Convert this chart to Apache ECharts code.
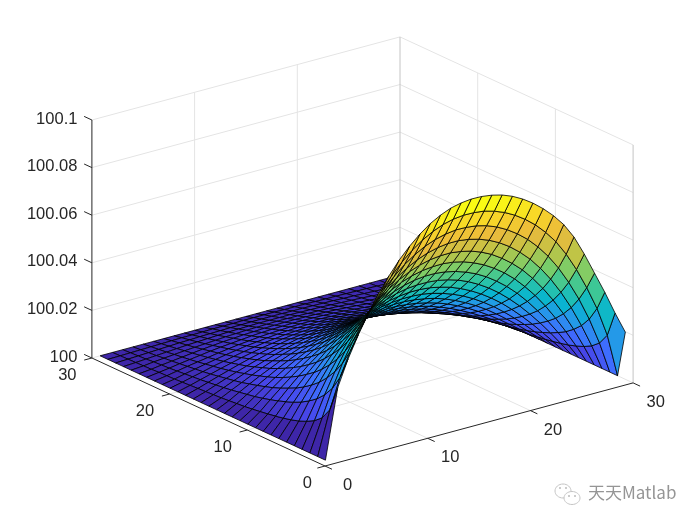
<!DOCTYPE html>
<html><head><meta charset="utf-8"><style>html,body{margin:0;background:#fff}#c{width:700px;height:525px}</style>
<script src="https://cdn.jsdelivr.net/npm/echarts@6/dist/echarts.min.js"></script></head><body><div id="c"></div>
<script>
const xGrid=[0.8,2,3,4,5,6,7,8,9,10,11,12,13,14,15,16,17,18,19,20,21,22,23,24,25,26,27,28,29,30];
const yGrid=[1,2,3,4,5,6,7,8,9,10,11,12,13,14,15,16,17,18,19,20,21,22,23,24,25,26,27,28,29,30];
const xTicks=[0,10,20,30];
const yTicks=[0,10,20,30];
const zTicks=[100,100.02,100.04,100.06,100.08,100.1];
// surface height above 100, in units of 0.0001; one row per yGrid value, one column per xGrid value
const zRows=[
[0,291,399,489,569,641,703,758,804,843,875,899,917,927,932,931,925,914,897,874,845,810,769,720,656,573,481,389,290,198],
[0,184,309,407,490,561,623,676,722,760,791,815,833,844,849,848,843,831,814,791,762,727,684,633,569,493,405,306,182,0],
[0,134,247,342,422,491,551,603,647,684,714,738,755,766,772,771,766,755,738,715,686,651,608,557,496,424,342,246,134,0],
[0,107,204,290,365,430,487,537,579,614,643,666,683,694,700,700,694,683,667,645,617,582,541,491,434,367,291,204,107,0],
[0,89,172,249,317,378,431,478,518,552,579,601,617,628,633,634,628,618,602,581,553,520,481,434,380,319,250,173,89,0],
[0,75,148,215,277,333,382,425,463,495,521,542,557,567,572,573,568,558,542,522,496,465,428,384,335,279,216,148,76,0],
[0,65,128,188,243,294,339,379,414,443,468,487,502,512,517,517,512,502,488,469,445,415,381,341,295,244,189,129,65,0],
[0,57,112,165,214,260,301,338,370,397,420,438,452,461,465,465,461,452,439,421,398,371,339,302,261,215,166,113,57,0],
[0,50,99,145,190,230,268,301,330,356,377,393,406,414,419,419,415,406,394,377,356,331,302,269,231,190,146,99,50,0],
[0,44,87,129,168,205,238,268,295,318,337,353,365,372,376,376,373,365,353,338,319,296,269,239,205,168,129,87,44,0],
[0,39,77,114,149,182,212,239,264,284,302,316,327,334,338,338,334,327,317,303,285,264,240,213,182,149,114,77,39,0],
[0,34,68,101,132,162,189,213,235,254,270,283,293,299,303,303,299,293,283,271,255,236,214,189,162,133,101,68,34,0],
[0,30,60,90,117,144,168,190,210,227,241,253,262,268,271,271,268,262,253,242,227,210,190,168,144,118,90,61,31,0],
[0,27,54,80,104,128,149,169,187,202,215,226,234,239,242,242,239,234,226,216,203,187,170,150,128,105,80,54,27,0],
[0,24,48,71,93,113,133,150,166,180,192,201,208,213,216,216,213,209,201,192,180,167,151,133,114,93,71,48,24,0],
[0,21,42,62,82,101,118,134,148,160,170,179,185,190,192,192,190,185,179,171,160,148,134,118,101,82,63,42,21,0],
[0,19,37,55,73,89,104,118,131,142,151,159,164,168,170,170,168,165,159,151,142,131,118,104,89,73,55,37,19,0],
[0,17,33,49,64,78,92,104,116,125,134,140,145,149,151,151,149,145,140,134,125,116,105,92,79,64,49,33,17,0],
[0,15,29,43,56,69,81,92,102,110,118,123,128,131,133,133,131,128,124,118,110,102,92,81,69,56,43,29,15,0],
[0,13,25,37,49,60,71,80,89,96,103,108,112,115,116,116,115,112,108,103,97,89,80,71,60,49,37,25,13,0],
[0,11,22,32,43,52,61,70,77,84,89,94,97,100,101,101,100,97,94,90,84,77,70,62,52,43,33,22,11,0],
[0,9,19,28,37,45,53,60,67,72,77,81,84,86,87,87,86,84,81,77,72,67,60,53,45,37,28,19,9,0],
[0,8,16,24,31,38,45,51,57,61,66,69,71,73,74,74,73,71,69,66,61,57,51,45,38,31,24,16,8,0],
[0,7,13,20,26,32,38,43,47,51,55,58,60,61,62,62,61,60,58,55,51,47,43,38,32,26,20,13,7,0],
[0,5,11,16,21,26,31,35,39,42,45,47,49,50,51,51,50,49,47,45,42,39,35,31,26,21,16,11,5,0],
[0,4,9,13,17,21,24,27,30,33,35,37,38,39,40,40,39,38,37,35,33,30,27,24,21,17,13,9,4,0],
[0,3,6,9,12,15,18,20,22,24,26,27,28,29,29,29,29,28,27,26,24,22,20,18,15,12,9,6,3,0],
[0,2,4,6,8,10,12,13,15,16,17,18,18,19,19,19,19,18,18,17,16,15,13,12,10,8,6,4,2,0],
[0,1,2,3,4,5,6,7,7,8,9,9,9,10,10,10,10,9,9,9,8,7,7,6,5,4,3,2,1,0],
[0,0,0,0,0,0,0,0,0,0,0,0,0,0,0,0,0,0,0,0,0,0,0,0,0,0,0,0,0,0]
];
const parula=[[62,38,168],[71,71,235],[62,111,255],[39,150,235],[8,181,208],[49,198,159],[122,205,105],[190,196,70],[235,186,60],[248,215,40],[249,251,20]];
const toZ=v=>100+v/10000;
const zMax=Math.max(...zRows.map(r=>Math.max(...r)));
function col(v){const t=Math.min(1,v/zMax)*10,a=Math.min(9,Math.floor(t)),f=t-a,c=parula[a].map((q,n)=>Math.round(q+(parula[a+1][n]-q)*f));return `rgb(${c})`}
const cells=[];
for(let j=0;j<29;j++)for(let i=0;i<29;i++){
 const cx=(xGrid[i]+xGrid[i+1])/2,cy=(yGrid[j]+yGrid[j+1])/2,cz=(zRows[j][i]+zRows[j][i+1]+zRows[j+1][i]+zRows[j+1][i+1])/4;
 cells.push([i,j,(-.527*cx-.687*cy)/30+.5*cz/1000*.75]);
}
cells.sort((a,b)=>a[2]-b[2]);
const uu=(x,y)=>10.27*x-7.77*y, vv=(x,y,z)=>2.77*x+3.6*y+(z-100)*2380;
const lines=[];
const G='#e4e4e4',B='#c4c4c4',K='#262626';
xTicks.forEach(x=>{if(x>0)lines.push([x,0,100,x,30,100,0]);});
yTicks.forEach(y=>{if(y>0)lines.push([0,y,100,30,y,100,0]);});
xTicks.forEach(x=>{if(x>0&&x<30)lines.push([x,30,100,x,30,100.1,0]);});
yTicks.forEach(y=>{if(y>0&&y<30)lines.push([30,y,100,30,y,100.1,0]);});
zTicks.forEach(z=>{if(z>100){lines.push([0,30,z,30,30,z,0]);lines.push([30,0,z,30,30,z,0]);}});
lines.push([30,30,100,30,30,100.1,1]);lines.push([30,0,100,30,0,100.1,1]);
lines.push([0,0,100,30,0,100,2]);lines.push([0,0,100,0,30,100,2]);lines.push([0,30,100,0,30,100.1,2]);
xTicks.forEach(x=>lines.push([x,0,100,x,-0.9,100,2]));
yTicks.forEach(y=>lines.push([0,y,100,-0.75,y,100,2]));
zTicks.forEach(z=>lines.push([0,30,z,0,31,z,2]));
const labels=[];
xTicks.forEach(x=>labels.push([uu(x,-2.2)+5.5,vv(x,-2.2,100)-11.7,String(x),'center']));
yTicks.forEach(y=>labels.push([uu(-2.1,y)-3+(y===0?7:0),vv(-2.1,y,100)-12,String(y),'center']));
zTicks.forEach(z=>labels.push([uu(0,30)-14.5,vv(0,30,z)+1,String(z),'right']));
const font='16.5px "Liberation Sans",Arial,sans-serif';
const chart=echarts.init(document.getElementById('c'),null,{renderer:'canvas'});
chart.setOption({animation:false,
 grid:{left:0,right:0,top:0,bottom:0},
 xAxis:{type:'value',min:-325,max:375,show:false},
 yAxis:{type:'value',min:-59,max:466,show:false},
 graphic:[
  {type:'text',left:588,top:484,style:{text:'天天Matlab',font:'17px "Noto Sans CJK SC",sans-serif',fill:'#959595'}},
  {type:'ellipse',shape:{cx:563,cy:491,rx:8,ry:7},style:{fill:'#fff',stroke:'#c4c4c4',lineWidth:1}},
  {type:'ellipse',shape:{cx:572,cy:498,rx:8,ry:6.5},style:{fill:'#fff',stroke:'#c4c4c4',lineWidth:1}},
  {type:'circle',shape:{cx:560,cy:488,r:1},style:{fill:'#bbb'}},
  {type:'circle',shape:{cx:566,cy:488,r:1},style:{fill:'#bbb'}},
  {type:'circle',shape:{cx:569,cy:496,r:1},style:{fill:'#bbb'}},
  {type:'circle',shape:{cx:575,cy:496,r:1},style:{fill:'#bbb'}}
 ],
 series:[
 {type:'custom',z:1,silent:true,clip:false,data:lines,renderItem(p,api){const d=[0,1,2,3,4,5,6].map(n=>api.value(n));
   const a=api.coord([uu(d[0],d[1]),vv(d[0],d[1],d[2])]),b=api.coord([uu(d[3],d[4]),vv(d[3],d[4],d[5])]);
   return {type:'line',shape:{x1:a[0],y1:a[1],x2:b[0],y2:b[1]},style:{stroke:[G,B,K][d[6]],lineWidth:1}}}},
 {type:'custom',z:2,silent:true,clip:false,data:cells,renderItem(p,api){const i=api.value(0),j=api.value(1);
   const pts=[[i,j],[i+1,j],[i+1,j+1],[i,j+1]].map(([a,b])=>api.coord([uu(xGrid[a],yGrid[b]),vv(xGrid[a],yGrid[b],toZ(zRows[b][a]))]));
   return {type:'polygon',z2:p.dataIndex,shape:{points:pts},style:{fill:col(zRows[j][i]),stroke:'#000',lineWidth:.8,lineJoin:'round'}}}},
 {type:'custom',z:3,silent:true,clip:false,data:labels.map((l,n)=>[l[0],l[1],n]),renderItem(p,api){const l=labels[api.value(2)];const a=api.coord([l[0],l[1]]);
   return {type:'text',style:{text:l[2],x:a[0],y:a[1],font,fill:'#262626',align:l[3],verticalAlign:'middle'}}}}
 ]});
</script></body></html>
